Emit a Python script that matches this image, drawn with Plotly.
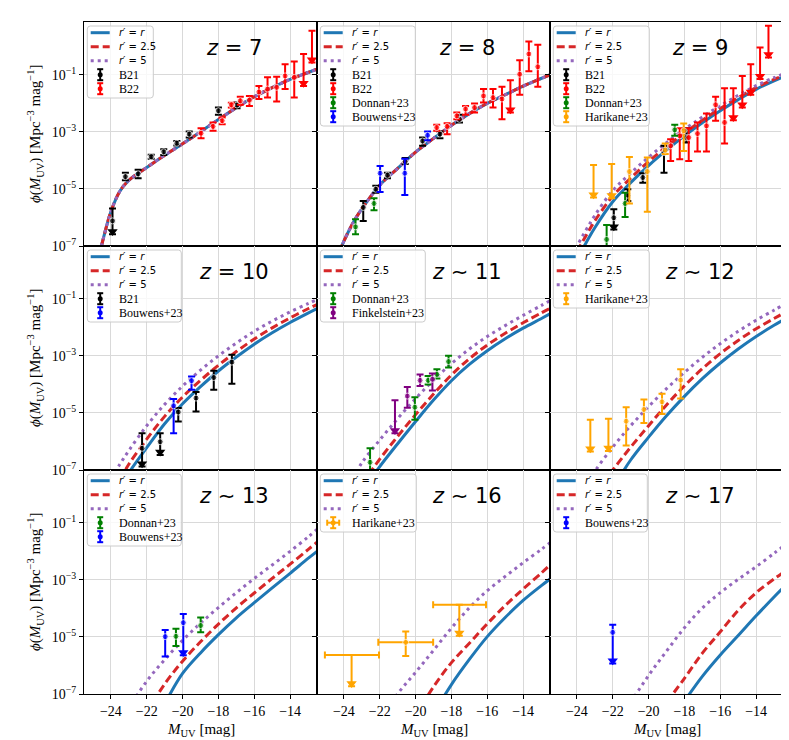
import plotly.graph_objects as go
from plotly.subplots import make_subplots

# model curves: log10(phi) on a common magnitude grid
CURVE_M = [-25, -24.5, -24, -23.5, -23, -22, -21, -20, -19, -18, -17, -16, -15, -14, -13, -12.5]
N = None
Z7_CURVE = [-8.2, -6.93, -5.80, -5.08, -4.70, -4.25, -3.82, -3.42, -3.00, -2.57, -2.15, -1.77, -1.45, -1.16, -0.92, -0.80]
Z8_CURVE = [N, -7.6, -6.83, -6.2, -5.70, -4.87, -4.28, -3.71, -3.23, -2.77, -2.36, -2.0, -1.70, -1.40, -1.13, -1.0]

LOGPHI_RR = [
    Z7_CURVE,
    Z8_CURVE,
    [N, N, -7.45, -6.9, -6.36, -5.45, -4.78, -4.18, -3.64, -3.14, -2.68, -2.26, -1.87, -1.51, -1.21, -1.08],
    [N, N, N, -7.6, -7.1, -6.22, -5.38, -4.68, -4.08, -3.53, -3.04, -2.59, -2.19, -1.83, -1.50, -1.34],
    [N, N, N, N, -7.75, -6.88, -6.08, -5.30, -4.55, -3.87, -3.30, -2.82, -2.40, -2.03, -1.70, -1.53],
    [N, N, N, N, N, -7.65, -6.65, -5.85, -5.10, -4.42, -3.80, -3.25, -2.76, -2.32, -1.93, -1.75],
    [N, N, N, N, N, N, -7.35, -6.28, -5.56, -4.92, -4.33, -3.80, -3.28, -2.77, -2.25, -2.0],
    [N, N, N, N, N, N, N, N, -7.7, -6.67, -5.79, -4.99, -4.32, -3.72, -3.21, -2.97],
    [N, N, N, N, N, N, N, N, N, -7.25, -6.38, -5.63, -4.95, -4.26, -3.60, -3.28],
]
LOGPHI_R25 = [
    Z7_CURVE,
    Z8_CURVE,
    [N, N, -7.2, -6.65, -6.12, -5.25, -4.62, -4.04, -3.52, -3.04, -2.59, -2.18, -1.80, -1.45, -1.16, -1.04],
    [N, N, N, -7.35, -6.8, -5.92, -5.12, -4.44, -3.86, -3.33, -2.85, -2.41, -2.02, -1.67, -1.35, -1.20],
    [N, N, N, N, -7.5, -6.62, -5.82, -5.06, -4.34, -3.67, -3.10, -2.62, -2.21, -1.84, -1.50, -1.34],
    [N, N, N, N, -7.8, -7.0, -6.2, -5.45, -4.72, -4.05, -3.45, -2.92, -2.46, -2.05, -1.69, -1.52],
    [N, N, N, N, N, -7.65, -6.65, -5.85, -5.17, -4.55, -3.98, -3.46, -2.95, -2.45, -1.94, -1.68],
    [N, N, N, N, N, N, N, -7.75, -6.75, -5.90, -5.22, -4.54, -3.90, -3.32, -2.77, -2.48],
    [N, N, N, N, N, N, N, N, -7.3, -6.45, -5.57, -4.82, -4.07, -3.45, -2.97, -2.75],
]
LOGPHI_R5 = [
    Z7_CURVE,
    Z8_CURVE,
    [N, -7.5, -7.0, -6.45, -5.93, -5.06, -4.45, -3.89, -3.38, -2.91, -2.48, -2.08, -1.72, -1.38, -1.10, -0.98],
    [N, N, -7.3, -6.8, -6.32, -5.45, -4.70, -4.06, -3.50, -3.00, -2.55, -2.14, -1.78, -1.46, -1.17, -1.03],
    [N, N, N, -7.3, -6.75, -5.95, -5.2, -4.50, -3.85, -3.27, -2.76, -2.32, -1.94, -1.58, -1.24, -1.07],
    [N, N, N, -7.6, -7.05, -6.2, -5.45, -4.78, -4.15, -3.58, -3.05, -2.57, -2.14, -1.75, -1.40, -1.22],
    [N, N, N, N, -7.5, -6.55, -5.8, -5.12, -4.52, -3.97, -3.45, -2.95, -2.48, -2.0, -1.50, -1.23],
    [N, N, N, N, N, -7.9, -6.99, -6.24, -5.47, -4.69, -3.98, -3.38, -2.88, -2.40, -1.94, -1.70],
    [N, N, N, N, N, N, -7.3, -6.35, -5.50, -4.68, -3.99, -3.45, -2.98, -2.54, -2.07, -1.83],
]

# observations: M_UV, log10 phi (dot), log10 top of bar, log10 bottom of bar / arrow tip, upper limit flag
Z7_B21 = dict(M=[-23.91, -23.19, -22.48, -21.75, -21.05, -20.32, -19.63, -18.00, -16.96],
              lp=[-6.12, -4.57, -4.47, -3.87, -3.70, -3.40, -3.08, -2.26, -2.06],
              hi=[-5.69, -4.43, -4.33, -3.80, -3.61, -3.32, -2.99, -2.15, -1.97],
              lo=[-6.59, -4.70, -4.63, -3.94, -3.81, -3.48, -3.20, -2.40, -2.17],
              ul=[1, 0, 0, 0, 0, 0, 0, 0, 0])
Z7_B22 = dict(M=[-18.97, -18.30, -17.79, -17.28, -16.78, -16.27, -15.74, -15.26, -14.75, -14.28, -13.77, -13.25, -12.78],
              lp=[-3.05, -2.81, -2.61, -2.05, -1.91, -1.89, -1.60, -1.50, -1.44, -1.04, -1.09, -1.39, -0.57],
              hi=[-2.87, -2.67, -2.50, -1.98, -1.77, -1.74, -1.39, -1.09, -1.07, -0.63, -0.53, -0.27, 0.54],
              lo=[-3.22, -2.96, -2.73, -2.15, -2.05, -2.09, -1.85, -1.80, -1.94, -1.50, -1.80, -1.39, -0.57],
              ul=[0, 0, 0, 0, 0, 0, 0, 0, 0, 0, 0, 1, 1])
Z8_B21 = dict(M=[-22.92, -22.22, -21.57, -20.58, -19.61, -18.64, -17.55],
              lp=[-5.65, -5.01, -4.52, -4.04, -3.32, -3.08, -2.56],
              hi=[-5.42, -4.89, -4.43, -3.92, -3.20, -2.99, -2.40],
              lo=[-6.12, -5.13, -4.63, -4.13, -3.49, -3.22, -2.67],
              ul=[0, 0, 0, 0, 0, 0, 0])
Z8_B22 = dict(M=[-18.82, -18.24, -17.70, -17.21, -16.71, -16.21, -15.68, -15.18, -14.71, -14.19, -13.68, -13.18],
              lp=[-2.85, -2.81, -2.44, -2.20, -2.15, -1.74, -1.80, -1.85, -2.32, -0.98, -0.27, -0.72],
              hi=[-2.75, -2.70, -2.32, -2.09, -2.01, -1.50, -1.50, -1.42, -1.19, -0.49, 0.17, 0.05],
              lo=[-2.96, -3.08, -2.56, -2.40, -2.32, -1.97, -2.15, -2.56, -2.32, -1.70, -0.88, -1.42],
              ul=[0, 0, 0, 0, 0, 0, 0, 0, 1, 0, 0, 0])
Z8_DONNAN = dict(M=[-23.35, -22.32], lp=[-6.33, -5.51], hi=[-6.06, -5.33], lo=[-6.59, -5.75], ul=[0, 0])
Z8_BOUWENS = dict(M=[-21.98, -20.60, -19.33], lp=[-4.45, -4.45, -3.12],
                  hi=[-4.20, -3.94, -2.99], lo=[-5.11, -5.21, -3.29], ul=[0, 0, 0])
Z9_B21 = dict(M=[-21.94, -21.16, -20.32, -19.14, -17.89], lp=[-6.01, -5.22, -4.60, -3.73, -3.20],
              hi=[-5.71, -5.01, -4.45, -3.49, -2.87], lo=[-6.42, -5.42, -4.78, -4.43, -3.37], ul=[1, 0, 0, 0, 0])
Z9_B22 = dict(M=[-18.77, -18.26, -17.76, -17.27, -16.77, -16.26, -15.76, -15.27, -14.77, -14.30, -13.78, -13.31],
              lp=[-3.49, -3.14, -3.20, -3.06, -2.79, -2.05, -2.67, -2.59, -2.15, -1.70, -1.15, -0.39],
              hi=[-3.26, -2.87, -2.87, -2.67, -2.36, -1.77, -1.47, -1.47, -1.04, -0.63, -0.04, 0.72],
              lo=[-4.02, -3.96, -4.02, -3.69, -3.69, -2.61, -3.41, -2.59, -2.15, -1.70, -1.15, -0.39],
              ul=[0, 0, 0, 0, 0, 0, 0, 1, 1, 1, 1, 1])
Z9_DONNAN = dict(M=[-22.34, -21.31, -18.54], lp=[-6.77, -5.51, -2.93],
                 hi=[-6.26, -5.13, -2.75], lo=[-7.3, -5.98, -3.14], ul=[0, 0, 0])
Z9_HARIKANE = dict(M=[-23.07, -22.06, -21.07, -20.07, -19.07, -18.04],
                   lp=[-5.30, -5.33, -4.39, -4.39, -3.64, -2.96],
                   hi=[-4.16, -4.13, -3.88, -3.90, -3.41, -2.71],
                   lo=[-5.30, -5.33, -5.51, -5.80, -3.78, -3.67], ul=[1, 1, 0, 0, 0, 0])
Z10_B21 = dict(M=[-22.26, -21.25, -20.24, -19.25, -18.26, -17.25],
               lp=[-6.24, -6.01, -4.97, -4.48, -3.76, -3.22],
               hi=[-5.71, -5.71, -4.83, -4.27, -3.52, -2.96],
               lo=[-6.88, -6.47, -5.30, -4.95, -4.19, -3.98], ul=[1, 1, 0, 0, 0, 0])
Z10_BOUWENS = dict(M=[-20.50, -19.50], lp=[-4.75, -3.87], hi=[-4.51, -3.72], lo=[-5.71, -4.19], ul=[0, 0])
Z11_DONNAN = dict(M=[-22.54, -20.04, -19.30, -18.81, -18.16], lp=[-6.73, -4.80, -3.86, -3.65, -3.20],
                  hi=[-6.24, -4.45, -3.71, -3.47, -3.00], lo=[-7.0, -5.24, -4.00, -3.79, -3.41], ul=[0, 0, 0, 0, 0])
Z11_FINKELSTEIN = dict(M=[-21.15, -20.46, -19.75, -19.06], lp=[-5.71, -4.41, -3.86, -3.82],
                       hi=[-4.56, -4.09, -3.65, -3.62], lo=[-5.71, -4.82, -4.06, -4.21], ul=[1, 0, 0, 0])
Z12_HARIKANE = dict(M=[-23.25, -22.24, -21.25, -20.26, -19.25, -18.21],
                    lp=[-6.35, -6.33, -5.29, -4.88, -4.61, -3.85],
                    hi=[-5.24, -5.20, -4.80, -4.53, -4.33, -3.47],
                    lo=[-6.35, -6.33, -6.14, -5.35, -5.04, -4.49], ul=[1, 1, 0, 0, 0, 0])
Z13_DONNAN = dict(M=[-20.37, -18.99], lp=[-4.98, -4.60], hi=[-4.71, -4.32], lo=[-5.32, -4.84], ul=[0, 0])
Z13_BOUWENS = dict(M=[-20.97, -19.96], lp=[-4.99, -4.50], hi=[-4.76, -4.20], lo=[-5.69, -5.64], ul=[0, 1])
Z16_HARIKANE = dict(M=[-23.57, -20.55, -17.56], lp=[-5.63, -5.19, -3.87],
                    hi=[-5.63, -4.81, -3.87], lo=[-6.73, -5.67, -4.96], ul=[1, 0, 1],
                    Mlo=[-25.06, -22.08, -19.02], Mhi=[-22.04, -19.02, -16.07])
Z17_BOUWENS = dict(M=[-22.0], lp=[-4.84], hi=[-4.57], lo=[-5.93], ul=[1])

PANEL_TITLES = ["<i>z</i> = 7", "<i>z</i> = 8", "<i>z</i> = 9", "<i>z</i> = 10", "<i>z</i> ∼ 11",
                "<i>z</i> ∼ 12", "<i>z</i> ∼ 13", "<i>z</i> ∼ 16", "<i>z</i> ∼ 17"]
PANEL_DATA = [
    [("B21", "black", Z7_B21), ("B22", "red", Z7_B22)],
    [("B21", "black", Z8_B21), ("B22", "red", Z8_B22), ("Donnan+23", "green", Z8_DONNAN), ("Bouwens+23", "blue", Z8_BOUWENS)],
    [("B21", "black", Z9_B21), ("B22", "red", Z9_B22), ("Donnan+23", "green", Z9_DONNAN), ("Harikane+23", "orange", Z9_HARIKANE)],
    [("B21", "black", Z10_B21), ("Bouwens+23", "blue", Z10_BOUWENS)],
    [("Donnan+23", "green", Z11_DONNAN), ("Finkelstein+23", "purple", Z11_FINKELSTEIN)],
    [("Harikane+23", "orange", Z12_HARIKANE)],
    [("Donnan+23", "green", Z13_DONNAN), ("Bouwens+23", "blue", Z13_BOUWENS)],
    [("Harikane+23", "orange", Z16_HARIKANE)],
    [("Bouwens+23", "blue", Z17_BOUWENS)],
]
LEGEND_W = [66, 95, 96, 94, 105, 96, 94, 96, 94]

MODELS = [("<i>r′</i> = <i>r</i>", "#1f77b4", "solid"),
          ("<i>r′</i> = 2.5", "#d62728", "8px,4px"),
          ("<i>r′</i> = 5", "#9467bd", "3px,4px")]

X_LABEL = "<i>M</i><sub>UV</sub> [mag]"
Y_LABEL = "<i>ϕ</i>(<i>M</i><sub>UV</sub>) [Mpc<sup>−3</sup> mag<sup>−1</sup>]"

PW, PH = 233.0, 224.0  # panel size in px

fig = make_subplots(rows=3, cols=3, horizontal_spacing=0, vertical_spacing=0)


def add_points(d, color, row, col):
    y = [10 ** v for v in d["lp"]]
    up = [10 ** h - 10 ** v for h, v in zip(d["hi"], d["lp"])]
    dn = [10 ** v - 10 ** l for v, l in zip(d["lp"], d["lo"])]
    sizes = [0 if (u and v == l) else 6 for u, v, l in zip(d["ul"], d["lp"], d["lo"])]
    err_x = None
    if "Mlo" in d:
        err_x = dict(type="data", symmetric=False, color=color, thickness=2, width=3.5,
                     array=[h - m for h, m in zip(d["Mhi"], d["M"])],
                     arrayminus=[m - l for m, l in zip(d["M"], d["Mlo"])])
        sizes = [0 if u else 6 for u in d["ul"]]
    fig.add_trace(go.Scatter(
        x=d["M"], y=y, mode="markers", marker=dict(color=color, size=sizes),
        error_y=dict(type="data", symmetric=False, array=up, arrayminus=dn,
                     color=color, thickness=2, width=3.5),
        error_x=err_x, showlegend=False, hoverinfo="skip"), row=row, col=col)
    tips_x = [m for m, u in zip(d["M"], d["ul"]) if u]
    tips_y = [10 ** l * 1.25 for l, u in zip(d["lo"], d["ul"]) if u]
    if tips_x:
        fig.add_trace(go.Scatter(
            x=tips_x, y=tips_y, mode="markers",
            marker=dict(symbol="triangle-down", size=9, color=color),
            showlegend=False, hoverinfo="skip"), row=row, col=col)


def add_legend(k, entries, width):
    s = "" if k == 1 else str(k)
    xr, yr = f"x{s} domain", f"y{s} domain"
    fx = lambda px: px / PW
    fy = lambda py: 1 - py / PH
    n = len(entries)
    x0, x1 = fx(3.3), fx(3.3 + width)
    y1, y0 = fy(4), fy(4 + 14 * n + 2)
    rx, ry = 3 / PW, 3 / PH
    path = (f"M {x0 + rx},{y1} L {x1 - rx},{y1} Q {x1},{y1} {x1},{y1 - ry} L {x1},{y0 + ry} "
            f"Q {x1},{y0} {x1 - rx},{y0} L {x0 + rx},{y0} Q {x0},{y0} {x0},{y0 + ry} "
            f"L {x0},{y1 - ry} Q {x0},{y1} {x0 + rx},{y1} Z")
    fig.add_shape(type="path", path=path, xref=xr, yref=yr, layer="above",
                  line=dict(color="#cccccc", width=1), fillcolor="rgba(255,255,255,0.8)")
    for i, (kind, label, color, extra) in enumerate(entries):
        cy = 10.7 + 14 * i
        if kind == "line":
            fig.add_shape(type="line", xref=xr, yref=yr, x0=fx(6.7), x1=fx(25.7), y0=fy(cy), y1=fy(cy),
                          line=dict(color=color, width=3, dash=extra), layer="above")
            fam = "DejaVu Sans"
            size = 10
        else:
            cx = 16.2
            segs = [(cx, cy - 5.5, cx, cy + 5.5), (cx - 3, cy - 5.5, cx + 3, cy - 5.5),
                    (cx - 3, cy + 5.5, cx + 3, cy + 5.5)]
            if extra:
                segs += [(cx - 6, cy, cx + 6, cy), (cx - 6, cy - 3, cx - 6, cy + 3), (cx + 6, cy - 3, cx + 6, cy + 3)]
            for a, b, c, e in segs:
                fig.add_shape(type="line", xref=xr, yref=yr, x0=fx(a), y0=fy(b), x1=fx(c), y1=fy(e),
                              line=dict(color=color, width=2), layer="above")
            fig.add_shape(type="circle", xref=xr, yref=yr, x0=fx(cx - 2.5), x1=fx(cx + 2.5),
                          y0=fy(cy + 2.5), y1=fy(cy - 2.5), fillcolor=color,
                          line=dict(color=color, width=0), layer="above")
            fam = "Liberation Serif"
            size = 12
        fig.add_annotation(xref=xr, yref=yr, x=fx(33), y=fy(cy), text=label, showarrow=False,
                           xanchor="left", yanchor="middle", font=dict(family=fam, size=size, color="black"))


for k in range(1, 10):
    i = k - 1
    row, col = i // 3 + 1, i % 3 + 1
    s = "" if k == 1 else str(k)
    for vals, (label, color, dash) in zip((LOGPHI_RR[i], LOGPHI_R25[i], LOGPHI_R5[i]), MODELS):
        fig.add_trace(go.Scatter(
            x=CURVE_M, y=[None if v is None else 10 ** v for v in vals], mode="lines",
            line=dict(color=color, width=3, dash=dash, shape="spline", smoothing=1.0),
            showlegend=False, hoverinfo="skip"), row=row, col=col)
    for label, color, d in PANEL_DATA[i]:
        add_points(d, color, row, col)

    entries = [("line", lab, c, dsh) for lab, c, dsh in MODELS]
    entries += [("err", lab, c, "Mlo" in d) for lab, c, d in PANEL_DATA[i]]
    add_legend(k, entries, LEGEND_W[i])

    fig.add_annotation(xref=f"x{s} domain", yref=f"y{s} domain", x=0.645, y=0.885,
                       text=PANEL_TITLES[i], showarrow=False, xanchor="center", yanchor="middle",
                       font=dict(family="DejaVu Sans", size=21, color="black"))

    fig.update_xaxes(range=[-25.5, -12.5], tickvals=[-24, -22, -20, -18, -16, -14],
                     showticklabels=(row == 3), ticks="outside", ticklen=4, tickwidth=1, tickcolor="black",
                     showline=True, mirror=True, linecolor="black", linewidth=1,
                     showgrid=True, gridcolor="#d9d9d9", gridwidth=1, zeroline=False,
                     tickfont=dict(size=14), row=row, col=col)
    fig.update_yaxes(type="log", range=[-7, 0.85], tickvals=[1e-7, 1e-5, 1e-3, 1e-1],
                     ticktext=["10<sup>−7</sup>", "10<sup>−5</sup>", "10<sup>−3</sup>", "10<sup>−1</sup>"],
                     showticklabels=(col == 1), ticks="outside", ticklen=4, tickwidth=1, tickcolor="black",
                     showline=True, mirror=True, linecolor="black", linewidth=1,
                     showgrid=True, gridcolor="#d9d9d9", gridwidth=1, zeroline=False,
                     tickfont=dict(size=14), row=row, col=col)
    # axis titles as annotations so they sit where the reference has them
    if row == 3:
        fig.add_annotation(xref=f"x{s} domain", yref="paper", x=0.5, y=-0.053, text=X_LABEL,
                           showarrow=False, xanchor="center", yanchor="middle", font=dict(size=15))
    if col == 1:
        fig.add_annotation(xref="paper", yref=f"y{s} domain", x=-0.070, y=0.5, text=Y_LABEL,
                           textangle=-90, showarrow=False, xanchor="center", yanchor="middle",
                           font=dict(size=15))

fig.update_layout(
    width=789, height=740,
    margin=dict(l=76, r=14, t=14, b=54),
    paper_bgcolor="white", plot_bgcolor="white",
    font=dict(family="Liberation Serif", size=14, color="black"),
    showlegend=False,
)

fig.write_html("out.html")
